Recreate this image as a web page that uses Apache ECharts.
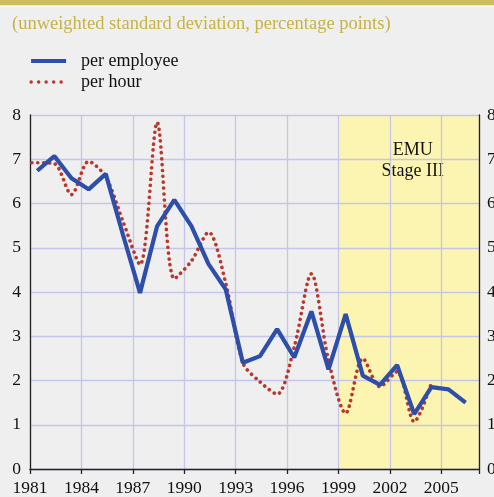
<!DOCTYPE html>
<html>
<head>
<meta charset="utf-8">
<script src="https://cdn.jsdelivr.net/npm/echarts@6/dist/echarts.min.js"></script>
<style>
  html, body { margin: 0; padding: 0; background: #efefef; }
  #chart { width: 494px; height: 497px; }
</style>
</head>
<body>
<div id="chart"></div>
<script>
// data
const firstYear = 1981;
const employeeYears = [1981, 1982, 1983, 1984, 1985, 1986, 1987, 1988, 1989, 1990, 1991, 1992, 1993,
  1994, 1995, 1996, 1997, 1998, 1999, 2000, 2001, 2002, 2003, 2004, 2005, 2006];
const perEmployee = [6.74, 7.07, 6.57, 6.32, 6.67, 5.3, 3.98, 5.49, 6.08, 5.49, 4.63, 4.06, 2.4,
  2.55, 3.16, 2.52, 3.56, 2.25, 3.5, 2.11, 1.9, 2.35, 1.24, 1.85, 1.8, 1.5];
const hourYears = [1980, 1981, 1982, 1983, 1984, 1985, 1986, 1987, 1988, 1989, 1990, 1991, 1992,
  1993, 1994, 1995, 1996, 1997, 1998, 1999, 2000, 2001, 2002, 2003, 2004];
const perHour = [6.92, 6.92, 6.9, 6.2, 6.95, 6.6, 5.6, 4.62, 7.83, 4.3, 4.7, 5.35, 4.2,
  2.4, 1.97, 1.69, 2.76, 4.41, 2.45, 1.26, 2.5, 1.86, 2.2, 1.07, 1.94];
const emuStart = 1999;
const yTicks = [0, 1, 2, 3, 4, 5, 6, 7, 8];

// annual points sit a bit inside each year
const MID = 0.42;
const X_MAX = 26.2;
const toX = y => y - firstYear;
const pts = (years, vals) => years.map((y, i) => [toX(y) + MID, vals[i]]);

const serif = '"Liberation Serif", "DejaVu Serif", serif';
const gridColor = '#c3c6ea';
const blue = '#2d4ea9';
const red = '#b8382c';
const blueLine = { color: blue, width: 4.2 };
const redLine = { color: red, width: 3.6, type: [0.1, 5.8], cap: 'round' };

const chart = echarts.init(document.getElementById('chart'));

const yAxisBase = {
  type: 'value',
  min: yTicks[0],
  max: yTicks[yTicks.length - 1],
  interval: 1,
  axisLine: { show: true, lineStyle: { color: '#222', width: 1.3 } },
  axisTick: { show: false },
  axisLabel: { color: '#111', fontSize: 17.5, fontFamily: serif },
};

chart.setOption({
  backgroundColor: '#efefef',
  animation: false,
  title: {
    text: '(unweighted standard deviation, percentage points)',
    left: 7,
    top: 10,
    textStyle: { color: '#c6b344', fontSize: 18.5, fontWeight: 'normal', fontFamily: serif },
  },
  graphic: [
    { type: 'rect', shape: { x: 0, y: 0, width: 494, height: 5.5 }, style: { fill: '#cdbd5f' } },
    { type: 'rect', shape: { x: 0, y: 5.5, width: 494, height: 1.5 }, style: { fill: '#fafafa' } },
  ],
  legend: {
    orient: 'vertical',
    left: 24,
    top: 47,
    itemWidth: 35,
    itemHeight: 14,
    itemGap: 3,
    itemStyle: { opacity: 0 },
    textStyle: { color: '#111', fontSize: 18, fontFamily: serif, padding: [0, 0, 0, 10] },
    data: [
      { name: 'per employee', lineStyle: Object.assign({}, blueLine) },
      { name: 'per hour', lineStyle: Object.assign({}, redLine, { width: 3.4, type: [0.1, 7.4] }) },
    ],
  },
  grid: { left: 30, right: 15, top: 115, bottom: 28, outerBoundsMode: 'none', containLabel: false },
  xAxis: {
    type: 'value',
    min: 0,
    max: X_MAX,
    interval: 3,
    axisLine: { lineStyle: { color: '#222', width: 1.3 } },
    axisTick: { show: true, length: 5, lineStyle: { color: '#222', width: 1.3 } },
    axisLabel: {
      color: '#111', fontSize: 17.5, fontFamily: serif, margin: 10,
      formatter: v => (Math.abs(v % 3) < 1e-6 ? String(v + firstYear) : ''),
    },
    splitLine: { show: true, lineStyle: { color: gridColor, width: 1.3 } },
  },
  yAxis: [
    Object.assign({}, yAxisBase, {
      position: 'left',
      axisLabel: Object.assign({}, yAxisBase.axisLabel, { margin: 9 }),
      splitLine: { show: true, lineStyle: { color: gridColor, width: 1.3 } },
    }),
    Object.assign({}, yAxisBase, {
      position: 'right',
      axisLabel: Object.assign({}, yAxisBase.axisLabel, { margin: 8 }),
      splitLine: { show: false },
    }),
  ],
  series: [
    {
      // EMU Stage III band, kept below the grid lines
      type: 'line',
      data: [],
      silent: true,
      markArea: {
        z: -1,
        silent: true,
        itemStyle: { color: '#fcf5b2' },
        label: {
          show: true,
          position: 'insideTop',
          distance: 25,
          offset: [4, 0],
          formatter: 'EMU\nStage III',
          color: '#111',
          fontSize: 18,
          lineHeight: 21,
          fontFamily: serif,
        },
        data: [[{ xAxis: toX(emuStart) }, { xAxis: X_MAX }]],
      },
    },
    {
      name: 'per employee',
      type: 'line',
      symbol: 'none',
      z: 4,
      lineStyle: blueLine,
      itemStyle: { color: blue },
      data: pts(employeeYears, perEmployee),
    },
    {
      name: 'per hour',
      type: 'line',
      symbol: 'none',
      smooth: 0.3,
      z: 3,
      lineStyle: redLine,
      itemStyle: { color: red },
      data: pts(hourYears, perHour),
    },
  ],
});
</script>
</body>
</html>
